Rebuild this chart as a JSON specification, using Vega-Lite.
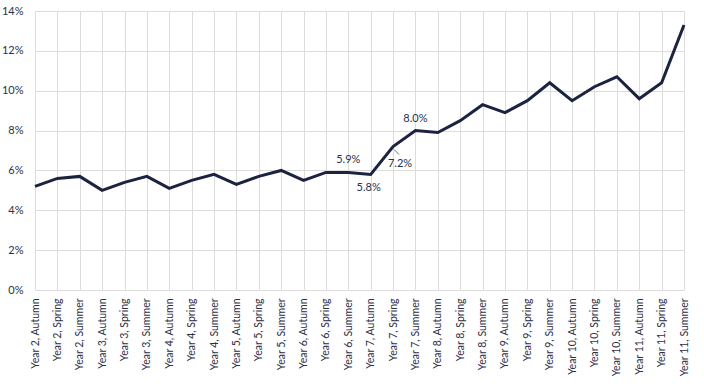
{
  "$schema": "https://vega.github.io/schema/vega-lite/v6.json",
  "autosize": "none",
  "width": 649,
  "height": 279,
  "padding": {"left": 35, "top": 11, "right": 20, "bottom": 99},
  "background": "white",
  "config": {
    "view": {"stroke": null},
    "font": "Lato",
    "axis": {"labelFont": "Lato", "labelFontSize": 11, "labelColor": "#2b3046", "gridColor": "#dcdcdc", "gridWidth": 1, "domain": false, "ticks": false}
  },
  "data": {
    "values": [
      {"period": "Year 2, Autumn", "rate": 5.2},
      {"period": "Year 2, Spring", "rate": 5.6},
      {"period": "Year 2, Summer", "rate": 5.7},
      {"period": "Year 3, Autumn", "rate": 5.0},
      {"period": "Year 3, Spring", "rate": 5.4},
      {"period": "Year 3, Summer", "rate": 5.7},
      {"period": "Year 4, Autumn", "rate": 5.1},
      {"period": "Year 4, Spring", "rate": 5.5},
      {"period": "Year 4, Summer", "rate": 5.8},
      {"period": "Year 5, Autumn", "rate": 5.3},
      {"period": "Year 5, Spring", "rate": 5.7},
      {"period": "Year 5, Summer", "rate": 6.0},
      {"period": "Year 6, Autumn", "rate": 5.5},
      {"period": "Year 6, Spring", "rate": 5.9},
      {"period": "Year 6, Summer", "rate": 5.9, "label": "5.9%", "pos": "above"},
      {"period": "Year 7, Autumn", "rate": 5.8, "label": "5.8%", "pos": "below"},
      {"period": "Year 7, Spring", "rate": 7.2, "label": "7.2%", "pos": "belowright"},
      {"period": "Year 7, Summer", "rate": 8.0, "label": "8.0%", "pos": "above"},
      {"period": "Year 8, Autumn", "rate": 7.9},
      {"period": "Year 8, Spring", "rate": 8.5},
      {"period": "Year 8, Summer", "rate": 9.3},
      {"period": "Year 9, Autumn", "rate": 8.9},
      {"period": "Year 9, Spring", "rate": 9.5},
      {"period": "Year 9, Summer", "rate": 10.4},
      {"period": "Year 10, Autumn", "rate": 9.5},
      {"period": "Year 10, Spring", "rate": 10.2},
      {"period": "Year 10, Summer", "rate": 10.7},
      {"period": "Year 11, Autumn", "rate": 9.6},
      {"period": "Year 11, Spring", "rate": 10.4},
      {"period": "Year 11, Summer", "rate": 13.3}
    ]
  },
  "encoding": {
    "x": {"field": "period", "type": "ordinal", "sort": null, "scale": {"type": "point", "padding": 0},
      "axis": {"title": null, "labelAngle": -90, "grid": true, "labelPadding": 8, "labelFontSize": 10.5}},
    "y": {"field": "rate", "type": "quantitative", "scale": {"domain": [0, 14]},
      "axis": {"title": null, "values": [0, 2, 4, 6, 8, 10, 12, 14], "labelExpr": "datum.value + '%'", "labelPadding": 12, "grid": true}}
  },
  "layer": [
    {"mark": {"type": "line", "color": "#1b2340", "strokeWidth": 3, "strokeJoin": "miter"}},
    {"transform": [{"filter": "datum.pos == 'above'"}],
      "mark": {"type": "text", "dy": -12, "fontSize": 11, "color": "#2b3046"},
      "encoding": {"text": {"field": "label"}}},
    {"transform": [{"filter": "datum.pos == 'below'"}],
      "mark": {"type": "text", "dy": 14, "dx": -2, "fontSize": 11, "color": "#2b3046"},
      "encoding": {"text": {"field": "label"}}},
    {"transform": [{"filter": "datum.pos == 'belowright'"}],
      "mark": {"type": "text", "dy": 17, "dx": 7, "fontSize": 11, "color": "#2b3046"},
      "encoding": {"text": {"field": "label"}}},
    {"transform": [{"filter": "datum.pos == 'belowright'"}],
      "mark": {"type": "rule", "color": "#6b6f80", "strokeWidth": 1, "xOffset": 1, "x2Offset": 6, "yOffset": 3, "y2Offset": 8},
      "encoding": {"x2": {"field": "period"}, "y2": {"field": "rate"}}}
  ]
}
